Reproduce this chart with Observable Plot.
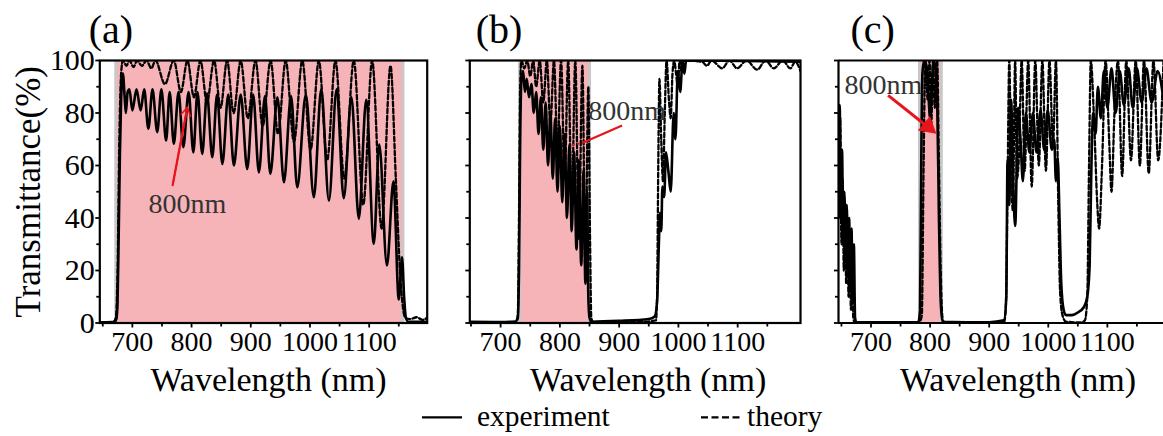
<!DOCTYPE html>
<html><head><meta charset="utf-8">
<script src="https://cdn.jsdelivr.net/npm/d3@7"></script>
<script src="https://cdn.jsdelivr.net/npm/@observablehq/plot@0.6"></script>
<style>
body{margin:0;background:#fff;overflow:hidden}
#wrap{position:relative;width:1163px;height:436px;overflow:hidden;font-family:"Liberation Serif","Times New Roman",serif;color:#000}
.panel{position:absolute;top:0}
.leg{position:absolute;font-size:29.5px;line-height:29.5px;white-space:nowrap;font-family:"Liberation Serif",serif}
</style></head><body><div id="wrap"></div>
<script>
// ---------- data (wavelength nm, transmittance %) ----------
const xMajor = [700, 800, 900, 1000, 1100];
const xMinor = [650, 750, 850, 950, 1050, 1150];
const yMajor = [0, 20, 40, 60, 80, 100];
const yMinor = [10, 30, 50, 70, 90];
const panelTags = ["(a)", "(b)", "(c)"];
const xTitle = "Wavelength (nm)";
const yTitle = "Transmittance(%)";
const legendNames = ["experiment", "theory"];
const bandA = [672, 1157];
const bandB = [732, 850];
const bandC = [782, 819];

const expA = [[645,0.3],[660,0.3],[670,0.5],[673,1.5],[675,8],[677,35],[679,65],[681,85],[684,95],[687,86],[689,80],[692,88],[695,89],[700,81],[707,89],[714,81],[720,89],[727,74],[734,89],[742,72.7],[749,89],[757,69.5],[763,88],[770,68.3],[778,88],[786,67],[795,88],[803,65],[810,88],[818,64.4],[826,87.5],[835,63.2],[843,87],[852,60.6],[862,87],[871.5,60],[883,87],[894,58.7],[904,87],[913.7,57.4],[924,86.5],[933,56.8],[945,86],[956,53.6],[968,86.5],[978.5,51.7],[993,87],[1006.5,47.9],[1019,89],[1032,46.7],[1045,89],[1057,47.5],[1070,86],[1082.5,39.7],[1095,85],[1107.8,30.2],[1117,68],[1130,21.9],[1141,54],[1150,9],[1155.5,25],[1159,10],[1162,2],[1166,0.5],[1198,0.5]];
const theoA = [[645,0.3],[668,0.5],[672,2],[675,20],[678,70],[681,95],[684,100],[690,98],[695,100],[702,97.5],[708,100],[716,98],[724,100],[732,97],[739,100],[755,91],[770,100],[782,88],[793,100],[804,86],[815,100],[826,84],[838,100],[849,82],[860,100],[871,80],[883,100],[895,78],[908,100],[920,75],[933.5,100],[946,72],[959,100],[973,69],[987,100],[1001,66],[1015,100],[1029,62],[1043,100],[1058,55],[1074,100],[1090,45],[1105,100],[1121,36],[1136,98],[1145,55],[1152,20],[1157,6],[1161,2],[1170,1.5],[1180,2.2],[1190,1.2],[1198,2]];

const expB = [[648,0.5],[700,0.4],[725,0.6],[729,2],[731,20],[733,70],[735,92],[738,96],[741,88],[744,93],[748,86],[752,91],[756,80],[760,88],[764,72],[768,86],[772,66],[776,84],[780,60],[784,80],[788,55],[792,78],[796,50],[800,75],[804,46],[808,72],[812,40],[816,68],[820,35],[824,65],[828,28],[832,62],[836,22],[840,58],[843,15],[846,50],[848,10],[850,2],[853,0.5],[900,0.8],[950,1.5],[960,2.5],[964,8],[967,30],[969,42],[971,35],[973,52],[976,48],[979,65],[983,58],[987,50],[992,80],[995,70],[999,96],[1003,88],[1007,100],[1010,95],[1013,100],[1206,99.5]];
const theoB = [[648,0.3],[726,0.3],[729,3],[731,40],[733,90],[735,100],[740,97],[745,100],[750,94],[755,100],[760,90],[766,100],[772,84],[778,100],[784,76],[790,100],[796,66],[802,100],[808,55],[814,100],[820,44],[826,100],[832,32],[838,98],[843,20],[848,90],[851,30],[853,2],[856,0.3],[940,0.5],[962,1],[964,10],[966,60],[968,93],[971,70],[974,54],[977,80],[980,100],[984,85],[987,78],[990,95],[993,100],[996,95],[999,90],[1002,100],[1005,96],[1008,100],[1040,99.5],[1048,98],[1056,100],[1074,97],[1086,100],[1099,97],[1115,100],[1133,96.5],[1147,100],[1161,97],[1176,100],[1189,97],[1197,99.5],[1206,96]];

const expC = [[645,55],[647,83],[649,40],[651,66],[653,30],[655,50],[657,25],[659,45],[661,20],[663,40],[665,12],[667,36],[669,8],[671,30],[673,2],[675,0.3],[780,0.3],[783,5],[785,60],[787,95],[790,100],[794,98],[797,88],[800,78],[803,90],[806,100],[809,97],[812,85],[815,40],[818,8],[821,0.5],[900,0.3],[925,1],[929,10],[931,62],[934,45],[937,85],[941,50],[944,37],[949,82],[953,70],[957,54],[962,80],[968,65],[974,80],[980,65],[987,81],[993,66],[999,81],[1006,66],[1010,70],[1013,54],[1016,63],[1019,40],[1022,15],[1026,5],[1030,3],[1040,3],[1050,4],[1060,6],[1066,10],[1070,22],[1073,60],[1076,80],[1080,72],[1084,90],[1089,78],[1094,96],[1100,82],[1107,97],[1114,80],[1121,96],[1128,83],[1136,97],[1143,82],[1150,97],[1158,84],[1166,97],[1175,84],[1185,96],[1195,85]];
const theoC = [[645,65],[646,40],[648,78],[650,30],[652,55],[654,20],[656,45],[658,15],[660,40],[662,10],[664,30],[666,5],[668,20],[670,2],[672,0.3],[782,0.3],[786,3],[789,60],[792,100],[796,85],[799,100],[802,76],[805,100],[808,82],[812,100],[815,60],[818,20],[821,2],[824,0.2],[925,0.3],[928,5],[931,50],[934,100],[937,60],[940,43],[944,100],[947,55],[950,62],[955,100],[960,58],[966,100],[972,52],[978,100],[984,60],[990,100],[996,58],[1002,100],[1008,68],[1013,100],[1017,45],[1020,12],[1024,3],[1030,0.5],[1055,0.2],[1062,1],[1066,10],[1069,60],[1072,100],[1077,80],[1083,45],[1086,36],[1091,60],[1097,100],[1103,70],[1107,50],[1112,80],[1118,100],[1125,56],[1132,100],[1140,62],[1148,100],[1155,60],[1162,100],[1170,57],[1178,100],[1186,62],[1195,100]];

// annotations: label position, line start, line end
const noteA = {text:[793,45.5], from:[768,52.4], to:[792.8,82.2]};
const noteB = {text:[913.6,80.6], from:[905,75.2], to:[840.5,68.9], dots:[818,67.6]};
const noteC = {text:[720.8,90.5], from:[729,86.7], to:[800,74]};

// ---------- drawing ----------
const PINK = "#f6b3b8", EDGE = "#c8c8c8", RED = "#e8141c";
const FONT = '"Liberation Serif", serif';
const acc = {x: d => d[0], y: d => d[1]};

function makePanel(cfg) {
  const marks = [
    Plot.rect([cfg.band], {x1: d => d[0], x2: d => d[1], y1: 0, y2: 100, fill: PINK}),
    Plot.ruleX(cfg.band, {x: d => d, stroke: EDGE, strokeWidth: 3}),
    Plot.line(cfg.theo, {...acc, stroke: "black", strokeWidth: 2.3, strokeDasharray: "4.5,2.5", curve: "monotone-x", clip: true}),
    Plot.line(cfg.exp, {...acc, stroke: "black", strokeWidth: 2.6, curve: "monotone-x", clip: true}),
    Plot.axisX({ticks: xMajor, tickSize: 5, tickPadding: 3, tickFormat: d => String(d), label: null, strokeWidth: 1.8, fontSize: 28, fontFamily: FONT}),
    Plot.axisX({ticks: xMinor, tickSize: 4, tickFormat: () => "", label: null, strokeWidth: 1.8}),
    Plot.axisY({ticks: yMajor, tickSize: 4, tickPadding: 1, tickFormat: cfg.yLabels ? (d => String(d)) : (() => ""), label: null, strokeWidth: 1.8, fontSize: 30, fontFamily: FONT}),
    Plot.axisY({ticks: yMinor, tickSize: 3, tickFormat: () => "", label: null, strokeWidth: 1.8}),
    Plot.text([cfg.tag], {frameAnchor: "top-left", textAnchor: "start", lineAnchor: "middle", dx: cfg.tagDx, dy: -30, fontSize: 40, fontFamily: FONT, fill: "black"}),
    Plot.text([xTitle], {frameAnchor: "bottom", textAnchor: "middle", lineAnchor: "middle", dx: cfg.titleDx, dy: 57, fontSize: 34, fontFamily: FONT, fill: "black"})
  ];
  if (cfg.closeRight) {
    marks.push(Plot.frame({stroke: "black", strokeWidth: 2.2}));
  } else {
    marks.push(Plot.ruleY([0, 100], {stroke: "black", strokeWidth: 2.2}));
    marks.push(Plot.ruleX([cfg.domain[0]], {stroke: "black", strokeWidth: 2.2}));
  }
  if (cfg.yLabels) {
    marks.push(Plot.text([yTitle], {frameAnchor: "left", textAnchor: "middle", rotate: -90, lineAnchor: "middle", dx: -71, fontSize: 35, fontFamily: FONT, fill: "black"}));
  }
  marks.push(...cfg.notes);
  return Plot.plot({
    width: cfg.width, height: 400,
    marginTop: 60, marginBottom: 77.5, marginLeft: cfg.marginLeft, marginRight: cfg.marginRight,
    x: {domain: cfg.domain}, y: {domain: [0, 100]},
    style: {fontFamily: FONT, fontSize: "28px", background: "transparent", color: "black", overflow: "visible"},
    marks
  });
}

function noteMarks(n, head) {
  const out = [
    Plot.text([n.text], {x: d => d[0], y: d => d[1], text: () => "800nm", fontSize: 28, fontFamily: FONT, fill: "#333"}),
    Plot.link([n], {x1: d => d.from[0], y1: d => d.from[1], x2: d => d.to[0], y2: d => d.to[1], stroke: RED, strokeWidth: head === "fill" ? 3 : 2.2})
  ];
  if (n.dots) out.push(Plot.link([n], {x1: d => d.to[0], y1: d => d.to[1], x2: d => d.dots[0], y2: d => d.dots[1], stroke: RED, strokeWidth: 2.5, strokeDasharray: "2,3"}));
  if (head === "fill") out.push(Plot.dot([n.to], {x: d => d[0], y: d => d[1], symbol: "triangle", r: 7, fill: RED, rotate: 130, dx: -2, dy: -2}));
  if (head === "open") out.push(Plot.arrow([n], {x1: d => d.from[0], y1: d => d.from[1], x2: d => d.to[0], y2: d => d.to[1], stroke: RED, strokeWidth: 1.6, headLength: 9}));
  return out;
}

const wrap = document.getElementById("wrap");
const panels = [
  {left: 0, width: 440, marginLeft: 99.3, marginRight: 13.3, domain: [645, 1198], band: bandA, exp: expA, theo: theoA, tag: panelTags[0], tagDx: -11, titleDx: 5, yLabels: true, closeRight: true, notes: noteMarks(noteA, "open")},
  {left: 440, width: 380, marginLeft: 29.3, marginRight: 20, domain: [648, 1206], band: bandB, exp: expB, theo: theoB, tag: panelTags[1], tagDx: 6, titleDx: 13, yLabels: false, closeRight: true, notes: noteMarks(noteB, "none")},
  {left: 800, width: 363, marginLeft: 38, marginRight: 0, domain: [645, 1195], band: bandC, exp: expC, theo: theoC, tag: panelTags[2], tagDx: 12, titleDx: 17, yLabels: false, closeRight: false, notes: noteMarks(noteC, "fill")}
];
for (const p of panels) {
  const div = document.createElement("div");
  div.className = "panel";
  div.style.left = p.left + "px";
  div.style.width = p.width + "px";
  div.appendChild(makePanel(p));
  wrap.appendChild(div);
}

// legend
function legendItem(x, label, dash, textX) {
  const svg = d3.create("svg").attr("width", 44).attr("height", 14)
    .style("position", "absolute").style("left", x + "px").style("top", "410px");
  svg.append("line").attr("x1", 1).attr("x2", 41).attr("y1", 7.3).attr("y2", 7.3)
    .attr("stroke", "black").attr("stroke-width", 2.2).attr("stroke-dasharray", dash);
  wrap.appendChild(svg.node());
  const s = document.createElement("div");
  s.className = "leg";
  s.style.left = textX + "px";
  s.style.top = "402px";
  s.textContent = label;
  wrap.appendChild(s);
}
legendItem(421, legendNames[0], null, 477);
legendItem(700, legendNames[1], "7,3.5", 747);
</script>
</body></html>
